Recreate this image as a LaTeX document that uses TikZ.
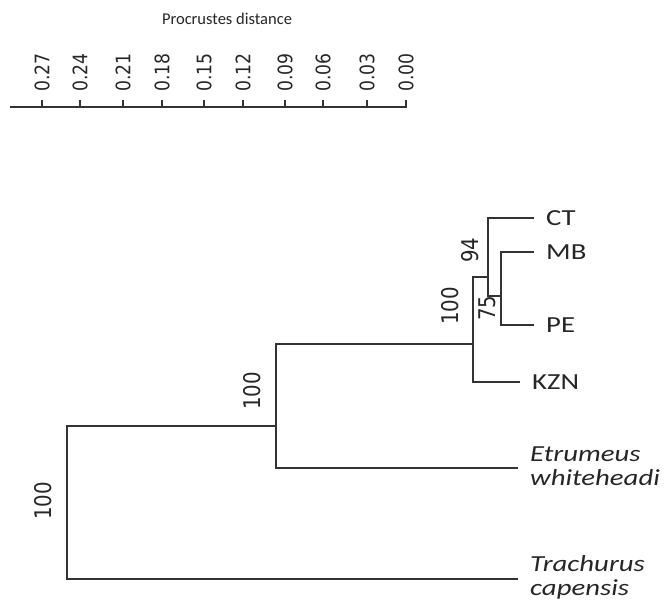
\documentclass[tikz,border=0pt]{standalone}
\usepackage{fontspec}
\setmainfont{Carlito}
\newfontfamily\leaffont[FakeStretch=1.25]{Carlito}
\newfontfamily\digitfont[FakeStretch=0.86]{DejaVu Sans}
\usetikzlibrary{positioning}

\begin{document}
\begin{tikzpicture}[x=1pt, y=-1pt,
    branch/.style={line width=1.3pt, black!80},
    leaf/.style={anchor=west, inner xsep=12pt, inner ysep=0pt, align=left, text=black!85, font=\leaffont\fontsize{23}{24}\selectfont},
    support/.style={rotate=90, inner sep=0pt, text=black!85, font=\digitfont\fontsize{23}{23}\selectfont},
    scalelabel/.style={rotate=90, anchor=west, inner sep=0pt, text=black!85, font=\digitfont\fontsize{20}{20}\selectfont}
]
    \useasboundingbox (0,0) rectangle (670,613);
    % distance scale
    \node[font=\fontsize{16.5}{16.5}\selectfont, text=black!85] (title) at (227,19) {Procrustes distance};
    \draw[branch] (10,107) -- (407,107);
    \node[scalelabel] (l27) at (42,92) {0.27};
    \node[scalelabel] (l24) at (80,92) {0.24};
    \node[scalelabel] (l21) at (123,92) {0.21};
    \node[scalelabel] (l18) at (162,92) {0.18};
    \node[scalelabel] (l15) at (204,92) {0.15};
    \node[scalelabel] (l12) at (243,92) {0.12};
    \node[scalelabel] (l09) at (285,92) {0.09};
    \node[scalelabel] (l06) at (323,92) {0.06};
    \node[scalelabel] (l03) at (367,92) {0.03};
    \node[scalelabel] (l00) at (406,92) {0.00};
    \draw[branch] (l27.west) ++(0,8) -- ++(0,7);
    \draw[branch] (l24.west) ++(0,8) -- ++(0,7);
    \draw[branch] (l21.west) ++(0,8) -- ++(0,7);
    \draw[branch] (l18.west) ++(0,8) -- ++(0,7);
    \draw[branch] (l15.west) ++(0,8) -- ++(0,7);
    \draw[branch] (l12.west) ++(0,8) -- ++(0,7);
    \draw[branch] (l09.west) ++(0,8) -- ++(0,7);
    \draw[branch] (l06.west) ++(0,8) -- ++(0,7);
    \draw[branch] (l03.west) ++(0,8) -- ++(0,7);
    \draw[branch] (l00.west) ++(0,8) -- ++(0,7);

    % tree
    \coordinate (root) at (67,502);
    \coordinate (n2) at (276,426);
    \coordinate (n3) at (473,344);
    \coordinate (n4) at (488,277);
    \coordinate (n5) at (501,296);
    \node[leaf] (ct) at (534,218) {CT};
    \node[leaf] (mb) at (534,252) {MB};
    \node[leaf] (pe) at (534,325) {PE};
    \node[leaf] (kzn) at (520,382) {KZN};
    \node[leaf] (etr) at (518,466) {\itshape Etrumeus\\\itshape whiteheadi};
    \node[leaf] (tra) at (518,577) {\itshape Trachurus\\\itshape capensis};
    \draw[branch] (n2) -| (root) |- ([yshift=-2pt]tra.west);
    \draw[branch] (n3) -| (n2) |- ([yshift=-2pt]etr.west);
    \draw[branch] (n4) -| (n3) |- (kzn.west);
    \draw[branch] (ct.west) -| (n4) |- (n5);
    \draw[branch] (mb.west) -| (n5) |- (pe.west);
    \node[support] (b1) at (43,501) {100};
    \node[support] (b2) at (252,391) {100};
    \node[support] (b3) at (450,306) {100};
    \node[support] (b4) at (470,250) {94};
    \node[support] (b5) at (487,308) {75};
\end{tikzpicture}
\end{document}
